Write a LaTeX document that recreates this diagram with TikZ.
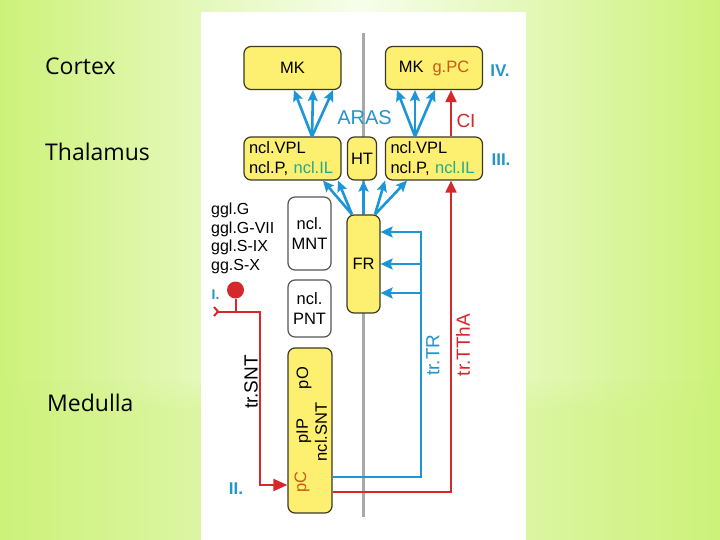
\documentclass[tikz,border=0pt]{standalone}
\usepackage{fontspec}
\setmainfont{Liberation Sans}
\newfontfamily\labfont{Open Sans}
\usetikzlibrary{arrows.meta,fadings}
\definecolor{bgl}{RGB}{205,242,122}
\definecolor{bgm}{RGB}{247,253,236}
\definecolor{boxyellow}{RGB}{253,240,112}
\definecolor{boxline}{RGB}{60,56,36}
\definecolor{graybox}{RGB}{85,85,85}
\definecolor{arrblue}{RGB}{28,150,214}
\definecolor{tblue}{RGB}{36,148,205}
\definecolor{rred}{RGB}{212,40,42}
\definecolor{ilteal}{RGB}{38,168,140}
\definecolor{gpc}{RGB}{204,88,22}
\definecolor{midgray}{RGB}{168,168,168}
\tikzfading[name=bandfade, top color=transparent!100, middle color=transparent!0, bottom color=transparent!100]
\tikzfading[name=upfade, top color=transparent!100, bottom color=transparent!0]
\begin{document}
\begin{tikzpicture}[x=1pt,y=-1pt,
  ybox/.style={draw=boxline, fill=boxyellow, rounded corners=7pt, line width=1.2pt,
    inner sep=0pt, font=\fontsize{16.5}{20}\selectfont},
  wbox/.style={ybox, fill=white, draw=graybox},
  barr/.style={draw=arrblue, line width=2.6pt, -{Stealth[length=11pt,width=10pt,inset=2pt]}},
  bline/.style={draw=arrblue, line width=2.2pt, -{Stealth[length=12pt,width=11pt,inset=2pt]}},
  rline/.style={draw=rred, line width=2pt},
  rarr/.style={rline, -{Triangle[length=12pt,width=11pt]}},
  inlab/.style={inner sep=0pt, font=\fontsize{16.5}{20}\selectfont},
  lab/.style={inner sep=0pt, font=\fontsize{19}{22}\selectfont},
  roman/.style={inner sep=0pt, text=tblue, font=\bfseries\fontsize{17}{20}\selectfont},
  region/.style={anchor=base west, inner sep=0pt, font=\labfont\fontsize{23}{26}\selectfont}
]
\useasboundingbox (0,0) rectangle (720,540);
% background
\shade[left color=bgl, right color=bgl, middle color=bgm] (0,0) rectangle (720,540);
\fill[white, opacity=0.35, path fading=bandfade] (0,330) rectangle (720,362);
\fill[bgl, opacity=0.45, path fading=bandfade] (0,352) rectangle (720,386);
\fill[bgl, opacity=0.35, path fading=upfade] (0,380) rectangle (720,410);
\fill[bgl, opacity=0.35] (0,410) rectangle (720,540);
\fill[white] (201,12) rectangle (526,540);

% region labels
\node[region] (cortex) at (45,75) {Cortex};
\node[region] (thal) at (45,161) {Thalamus};
\node[region] (med) at (47,411) {Medulla};

% midline
\coordinate (gtop) at (363.5,33);
\coordinate (gbot) at (363.5,517);
\draw[midgray, line width=3.5pt] (gtop) -- (gbot);

% boxes
\node[ybox, minimum width=97pt, minimum height=43pt] (MKL) at (292.5,68) {MK};
\node[ybox, minimum width=97pt, minimum height=43pt] (MKR) at (434,68) {MK\hspace{9pt}\textcolor{gpc}{g.PC}};
\node[ybox, minimum width=97pt, minimum height=43pt, text width=87pt, align=left, inner xsep=5pt] (VPLL) at (292.5,158.5) {ncl.VPL\\ncl.P, \textcolor{ilteal}{ncl.IL}};
\node[ybox, minimum width=29pt, minimum height=43pt] (HT) at (362,158.5) {HT};
\node[ybox, minimum width=97pt, minimum height=43pt, text width=87pt, align=left, inner xsep=5pt] (VPLR) at (434,158.5) {ncl.VPL\\ncl.P, \textcolor{ilteal}{ncl.IL}};
\node[ybox, minimum width=33pt, minimum height=98pt] (FR) at (363.5,264) {FR};
\node[wbox, minimum width=43pt, minimum height=73pt, align=center] (MNT) at (309.5,233.5) {ncl.\\MNT};
\node[wbox, minimum width=43pt, minimum height=57pt, align=center] (PNT) at (309.5,308.5) {ncl.\\PNT};
\node[ybox, minimum width=44pt, minimum height=165pt] (PC) at (310,430.5) {};
\node[inlab, rotate=90] (pO) at (304,378) {pO};
\node[inlab, rotate=90] (pIP) at (304,431) {pIP};
\node[inlab, rotate=90] (nclSNT) at (321,432) {ncl.SNT};
\node[inlab, rotate=90, text=gpc] (pCt) at (302,482) {pC};

% ganglia list
\node[anchor=west, align=left, inner sep=0pt, font=\fontsize{16}{18.7}\selectfont] (ggl) at (211,238.5) {ggl.G\\ggl.G-VII\\ggl.S-IX\\gg.S-X};

% labels
\node[lab, text=tblue, font=\fontsize{20}{22}\selectfont] (aras) at (364.5,117.5) {ARAS};
\node[lab, text=rred] (ci) at (466,121) {CI};
\node[roman] (rIV) at (500,71) {IV.};
\node[roman] (rIII) at (501,160) {III.};
\node[roman, font=\bfseries\fontsize{14}{16}\selectfont] (rI) at (215.5,295) {I.};
\node[roman] (rII) at (236,489) {II.};
\node[lab, rotate=90] (trSNT) at (251,382) {tr.SNT};
\node[lab, rotate=90, text=tblue] (trTR) at (433,355) {tr.TR};
\node[lab, rotate=90, text=rred] (trTThA) at (463,345) {tr.TThA};

% ARAS fans to cortex
\draw[barr] ([xshift=19.5pt]VPLL.north) -- ([xshift=1.5pt]MKL.south);
\draw[barr] ([xshift=19.5pt]VPLL.north) -- ([xshift=20.5pt]MKL.south);
\draw[barr] ([xshift=19.5pt]VPLL.north) -- ([xshift=40.5pt]MKL.south);
\draw[barr] ([xshift=-19pt]VPLR.north) -- ([xshift=-37pt]MKR.south);
\draw[barr] ([xshift=-19pt]VPLR.north) -- ([xshift=-19pt]MKR.south);
\draw[barr] ([xshift=-19pt]VPLR.north) -- ([xshift=1pt]MKR.south);
\draw[rarr] ([xshift=17pt]VPLR.north) -- ([xshift=17pt]MKR.south);

% FR fans to thalamus
\draw[barr] ([xshift=-11.5pt]FR.north) -- ([xshift=30.5pt]VPLL.south);
\draw[barr] ([xshift=-11.5pt]FR.north) -- ([xshift=45.5pt]VPLL.south);
\draw[barr] (FR.north) -- (FR.north |- HT.south);
\draw[barr] ([xshift=11.5pt]FR.north) -- ([xshift=-49pt]VPLR.south);
\draw[barr] ([xshift=11.5pt]FR.north) -- ([xshift=-27pt]VPLR.south);

% tr.TR
\coordinate (trA) at (421,232);
\coordinate (trB) at (421,264);
\coordinate (trC) at (421,293);
\draw[bline] ([yshift=-46.5pt]PC.east) -| (trA) -- (FR.east |- trA);
\draw[bline] (trB) -- (FR.east |- trB);
\draw[bline] (trC) -- (FR.east |- trC);

% tr.TThA
\draw[rarr] ([yshift=-61.5pt]PC.east) -| ([xshift=17pt]VPLR.south);

% tr.SNT
\node[circle, fill=rred, minimum size=17pt, inner sep=0pt] (dot) at (235.5,290) {};
\coordinate (sntL) at (213,311.5);
\coordinate (sntC) at (260,311.5);
\draw[rline] (dot.south) -- (dot.south |- sntL);
\draw[rline, {Straight Barb[reversed,length=4pt,width=9pt]}-{Triangle[length=14pt,width=12pt]}] (sntL) -- (sntC) |- ([yshift=-54.5pt]PC.west);
\end{tikzpicture}
\end{document}
